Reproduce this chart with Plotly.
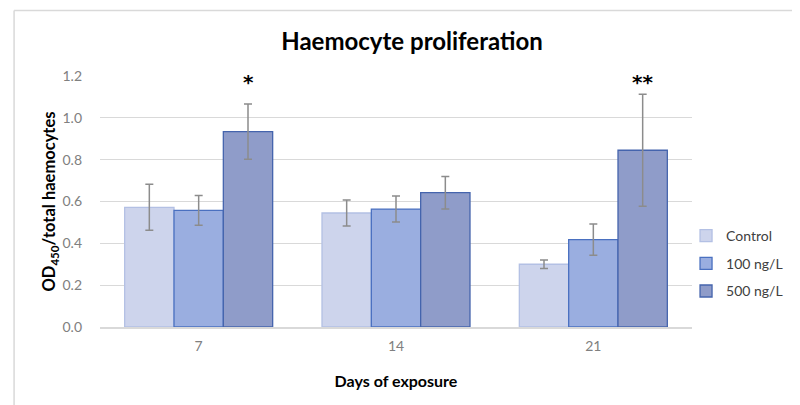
import plotly.graph_objects as go

days = ["7", "14", "21"]
series_names = ["Control", "100 ng/L", "500 ng/L"]
control = [0.572, 0.545, 0.300]
control_err = [0.11, 0.062, 0.02]
ng100 = [0.558, 0.564, 0.418]
ng100_err = [0.071, 0.062, 0.075]
ng500 = [0.934, 0.642, 0.845]
ng500_err = [0.132, 0.078, 0.268]
sig_labels = ["*", "", "**"]

values = [control, ng100, ng500]
errors = [control_err, ng100_err, ng500_err]
fills = ["#cdd4ec", "#9aaee0", "#8f9cc9"]
lines = ["#b3c0e4", "#4a70c0", "#4564ad"]

# page has an 8px body margin; figure is sized to fit inside the 800x405 window
OFF = 8
W, H = 800 - OFF, 405 - OFF
L, T = 100 - OFF, 76 - OFF
R = W - (696 - OFF)
B = H - (327 - OFF)
pw, ph = W - L - R, H - T - B

def px_x(p):  # page px -> paper x
    return (p - OFF - L) / pw

def px_y(p):  # page px -> paper y
    return (H - B - (p - OFF)) / ph

fig = go.Figure()
for name, v, e, fc, lc in zip(series_names, values, errors, fills, lines):
    fig.add_trace(go.Bar(
        x=days, y=v, name=name, legendgroup=name,
        marker=dict(color=fc, line=dict(color=lc, width=1.3)),
        error_y=dict(type="data", array=e, visible=True, color="#8c8c8c",
                     thickness=1.5, width=4),
    ))

for i, (s, v, e) in enumerate(zip(sig_labels, ng500, ng500_err)):
    if s:
        fig.add_annotation(x=i + 0.25, y=1.17, xref="x", yref="y", text="<b>" + s + "</b>",
                           showarrow=False,
                           font=dict(family="DejaVu Sans", size=20, color="#000000"),
                           yanchor="middle")

fig.add_shape(type="line", xref="paper", yref="paper",
              x0=px_x(13.5), x1=px_x(13.5), y0=px_y(10.5), y1=px_y(420),
              line=dict(color="#d9d9d9", width=1.5))
fig.add_shape(type="line", xref="paper", yref="paper",
              x0=px_x(13.5), x1=px_x(820), y0=px_y(10.5), y1=px_y(10.5),
              line=dict(color="#d9d9d9", width=1.5))

fig.update_layout(
    width=W, height=H,
    margin=dict(l=L, r=R, t=T, b=B),
    paper_bgcolor="white", plot_bgcolor="white",
    barmode="group", bargap=0.25, bargroupgap=0,
    title=dict(text="<b>Haemocyte proliferation</b>", x=(412 - OFF) / W, xanchor="center",
               y=1 - (42 - OFF) / H, yanchor="middle", xref="container", yref="container",
               font=dict(family="Lato", size=24, color="#000000")),
    font=dict(family="Lato", color="#595959"),
    xaxis=dict(type="category", range=[-0.5, 2.5], showline=True, linecolor="#d9d9d9",
               linewidth=1.5, ticks="", tickfont=dict(size=14, color="#808080"),
               ticklabelstandoff=5, automargin=False,
               title=dict(text="<b>Days of exposure</b>", standoff=23,
                          font=dict(size=16, color="#000000"))),
    yaxis=dict(range=[0, 1.2], dtick=0.2, tickformat=".1f", showgrid=True,
               gridcolor="#d9d9d9", gridwidth=1.3, zeroline=False, automargin=False,
               ticks="", tickfont=dict(size=14, color="#808080"), ticklabelstandoff=17,
               title=dict(text="<b>OD<sub>450</sub>/total haemocytes</b>", standoff=2,
                          font=dict(size=16.5, color="#000000"))),
    legend=dict(x=px_x(690), y=px_y(220), xanchor="left", yanchor="top",
                traceorder="grouped", tracegroupgap=6.5, itemwidth=30,
                font=dict(size=14, color="#404040"), bgcolor="rgba(0,0,0,0)"),
    showlegend=True,
)

fig.write_html("out.html")
